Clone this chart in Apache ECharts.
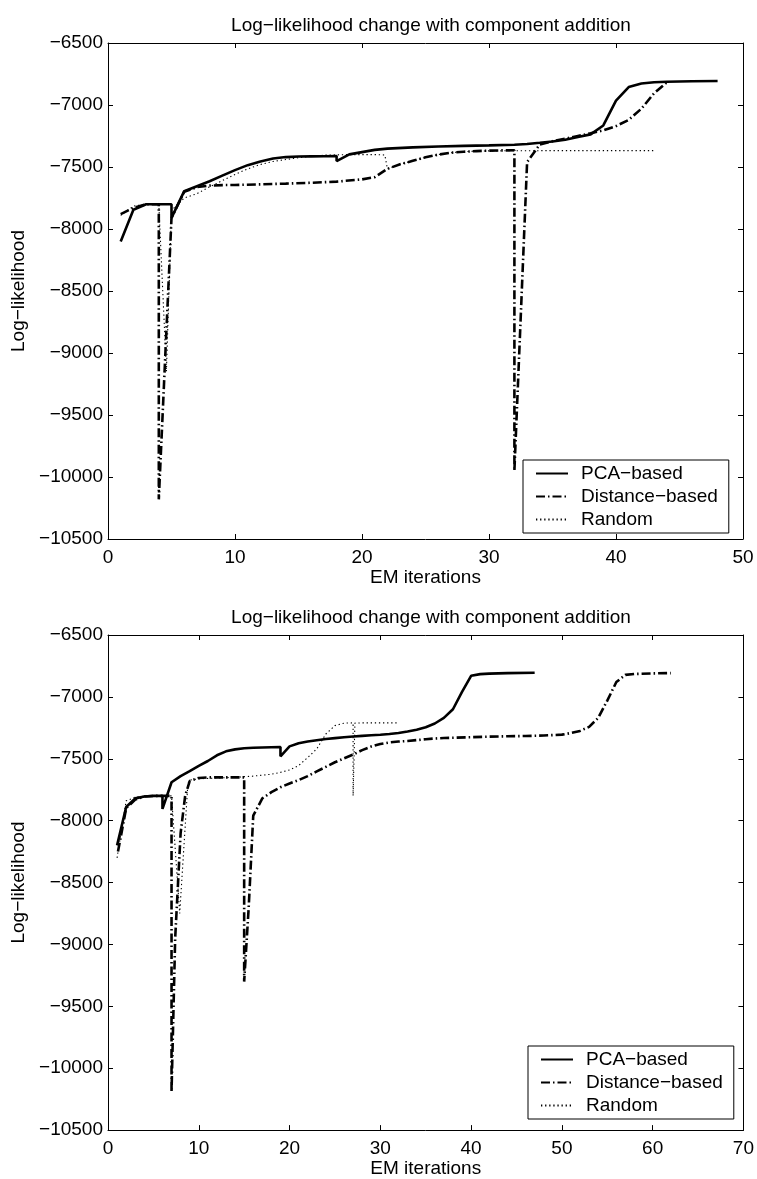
<!DOCTYPE html>
<html>
<head>
<meta charset="utf-8">
<script src="https://cdn.jsdelivr.net/npm/echarts@6/dist/echarts.min.js"></script>
<style>
html, body {margin: 0; padding: 0; background: #fff;}
#chart {width: 757px; height: 1179px;}
</style>
</head>
<body>
<div id="chart"></div>
<script>
var Chart = echarts.init(document.getElementById('chart'));

var titleText = 'Log\u2212likelihood change with component addition';
var seriesNames = ['PCA\u2212based', 'Distance\u2212based', 'Random'];
var yTicks = [-10500, -6500, 500];
var xTicksTop = [0, 50, 10];
var xTicksBottom = [0, 70, 10];

// upper plot
var topPca = [[1,-8100],[2,-7845],[3,-7800],[4,-7800],[5,-7800],[5,-7910],[6,-7695],[7,-7655],[8,-7615],[9,-7570],
    [10,-7525],[11,-7485],[12,-7455],[13,-7432],[14,-7420],[15,-7415],[16,-7414],[17,-7413],[18,-7412],[18,-7452],
    [19,-7398],[20,-7380],[21,-7362],[22,-7352],[24,-7342],[26,-7335],[28,-7330],[30,-7326],[32,-7320],[33,-7314],
    [34,-7305],[35,-7295],[36,-7280],[37,-7258],[38,-7237],[39,-7165],[40,-6965],[41,-6855],[42,-6826],[43,-6816],
    [44,-6812],[46,-6808],[48,-6806]];
var topDist = [[1,-7880],[2,-7830],[3,-7800],[4,-7800],[4,-10180],[5,-7910],[6,-7700],[7,-7662],[8,-7650],[9,-7646],
    [10,-7645],[12,-7640],[14,-7634],[16,-7627],[18,-7618],[20,-7600],[21,-7582],[22,-7515],[23,-7478],[24,-7450],
    [25,-7422],[26,-7400],[27,-7385],[28,-7377],[29,-7372],[30,-7368],[31,-7366],[32,-7365],[32,-9950],[33,-7460],
    [34,-7318],[35,-7292],[36,-7272],[37,-7250],[38,-7228],[39,-7205],[40,-7170],[41,-7120],[42,-7030],[43,-6905],
    [44,-6818]];
var topRand = [[1,-7890],[2,-7815],[3,-7800],[4,-7800],[4.6,-9150],[5,-7850],[6,-7750],[7,-7715],[8,-7660],[9,-7610],
    [10,-7560],[11,-7515],[12,-7480],[13,-7455],[14,-7440],[15,-7425],[16,-7414],[17,-7405],[18,-7402],[19,-7400],
    [20,-7400],[21,-7400],[21.8,-7403],[22,-7515],[23,-7478],[24,-7450],[25,-7422],[26,-7400],[27,-7385],[28,-7377],
    [29,-7372],[30,-7370],[32,-7369],[35,-7368],[38,-7368],[41,-7368],[43,-7368]];

// lower plot
var botPca = [[1,-8200],[2,-7890],[3,-7820],[4,-7805],[5,-7800],[6,-7800],[6,-7905],[7,-7690],[8,-7640],[9,-7600],
    [10,-7558],[11,-7518],[12,-7472],[13,-7440],[14,-7424],[15,-7415],[16,-7411],[17,-7409],[18,-7407],[19,-7405],
    [19,-7480],[20,-7400],[21,-7374],[22,-7360],[23,-7350],[24,-7340],[25,-7333],[26,-7326],[27,-7320],[28,-7315],
    [29,-7310],[30,-7306],[31,-7300],[32,-7292],[33,-7280],[34,-7265],[35,-7245],[36,-7215],[37,-7170],[38,-7100],
    [39,-6960],[40,-6830],[41,-6816],[42,-6812],[44,-6808],[47,-6805]];
var botDist = [[1.1,-8250],[2,-7900],[3,-7830],[4,-7805],[5,-7800],[6,-7800],[7,-7800],[7,-10190],[7.4,-8950],[8,-8100],
    [8.5,-7800],[9,-7680],[10,-7655],[11,-7650],[13,-7650],[15,-7650],[15,-9300],[15.5,-8700],[16,-7960],[17,-7820],
    [18,-7770],[19,-7730],[20,-7700],[21,-7672],[22,-7640],[23,-7602],[24,-7565],[25,-7528],[26,-7497],[27,-7466],
    [28,-7430],[29,-7401],[30,-7380],[31,-7368],[32,-7361],[33,-7356],[34,-7349],[35,-7342],[36,-7336],[37,-7332],
    [38,-7330],[40,-7326],[42,-7321],[44,-7318],[46,-7316],[48,-7312],[50,-7305],[51,-7292],[52,-7275],[53,-7242],
    [54,-7170],[55,-7030],[56,-6880],[57,-6822],[58,-6815],[60,-6810],[62,-6808]];
var botRand = [[1,-8300],[2,-7840],[3,-7810],[4,-7802],[5,-7800],[6,-7800],[7,-7800],[7.9,-8750],[8.8,-7700],[9,-7672],
    [10,-7662],[12,-7655],[14,-7650],[16,-7640],[18,-7625],[19,-7610],[20,-7590],[21,-7555],[22,-7490],[23,-7420],
    [24,-7300],[25,-7232],[26,-7212],[27,-7210],[27,-7800],[27.2,-7212],[28,-7210],[30,-7210],[32,-7210]];

var font = 'Liberation Sans';
var fs = 19;

var styles = [
    {color: '#000', width: 2.6, type: 'solid'},
    {color: '#000', width: 2.6, type: [9, 3, 1.5, 3]},
    {color: '#000', width: 1.1, type: [1.3, 2.8]}
];

function axisStyle() {
    return {
        axisLine: {show: true, onZero: false, lineStyle: {color: '#000', width: 1}},
        axisTick: {show: true, inside: true, length: 5, lineStyle: {color: '#000'}},
        splitLine: {show: false}
    };
}

function makeX(gridIndex, ticks, showLabel, position) {
    var a = axisStyle();
    a.type = 'value';
    a.gridIndex = gridIndex;
    a.position = position;
    a.min = ticks[0]; a.max = ticks[1]; a.interval = ticks[2];
    a.axisLabel = {show: showLabel, color: '#000', fontSize: fs, fontFamily: font, margin: 9};
    if (showLabel) {
        a.name = 'EM iterations';
        a.nameLocation = 'middle';
        a.nameGap = 26;
        a.nameTextStyle = {color: '#000', fontSize: fs, fontFamily: font};
    }
    return a;
}

function makeY(gridIndex, showLabel, position) {
    var a = axisStyle();
    a.type = 'value';
    a.gridIndex = gridIndex;
    a.position = position;
    a.min = yTicks[0]; a.max = yTicks[1]; a.interval = yTicks[2];
    a.axisLabel = {show: showLabel, color: '#000', fontSize: fs, fontFamily: font, margin: 5,
        formatter: function (v) { return String(v).replace('-', '\u2212'); }};
    if (showLabel) {
        a.name = 'Log\u2212likelihood';
        a.nameLocation = 'middle';
        a.nameGap = 80;
        a.nameTextStyle = {color: '#000', fontSize: fs, fontFamily: font};
    }
    return a;
}

function line(name, data, style, idx) {
    return {
        name: name, type: 'line', data: data,
        xAxisIndex: idx * 2, yAxisIndex: idx * 2,
        symbol: 'none', showSymbol: false,
        lineStyle: style, itemStyle: {color: style.color},
        z: 3 - styles.indexOf(style)
    };
}

function legend(left, top) {
    return {
        data: seriesNames, orient: 'vertical', left: left, top: top,
        backgroundColor: '#fff', borderColor: '#000', borderWidth: 1, borderRadius: 0,
        padding: [4, 11, 4, 12], itemGap: 4, itemWidth: 32, itemHeight: 18,
        selectedMode: false,
        itemStyle: {opacity: 0},
        textStyle: {color: '#000', fontSize: fs, fontFamily: font, padding: [0, 0, 0, 8]}
    };
}

var option = {
    backgroundColor: '#fff',
    animation: false,
    title: [
        {text: titleText, left: 426, top: 11, textAlign: 'center',
            textStyle: {color: '#000', fontSize: fs, fontWeight: 'normal', fontFamily: font}},
        {text: titleText, left: 426, top: 603, textAlign: 'center',
            textStyle: {color: '#000', fontSize: fs, fontWeight: 'normal', fontFamily: font}}
    ],
    grid: [
        {left: 108, top: 43, width: 635, height: 496},
        {left: 108, top: 635, width: 636, height: 497}
    ],
    xAxis: [
        makeX(0, xTicksTop, true, 'bottom'), makeX(0, xTicksTop, false, 'top'),
        makeX(1, xTicksBottom, true, 'bottom'), makeX(1, xTicksBottom, false, 'top')
    ],
    yAxis: [
        makeY(0, true, 'left'), makeY(0, false, 'right'),
        makeY(1, true, 'left'), makeY(1, false, 'right')
    ],
    legend: [legend(523, 460), legend(528, 1046)],
    series: [
        line(seriesNames[0], topPca, styles[0], 0),
        line(seriesNames[1], topDist, styles[1], 0),
        line(seriesNames[2], topRand, styles[2], 0),
        line(seriesNames[0], botPca, styles[0], 1),
        line(seriesNames[1], botDist, styles[1], 1),
        line(seriesNames[2], botRand, styles[2], 1)
    ]
};
Chart.setOption(option);
</script>
</body>
</html>
